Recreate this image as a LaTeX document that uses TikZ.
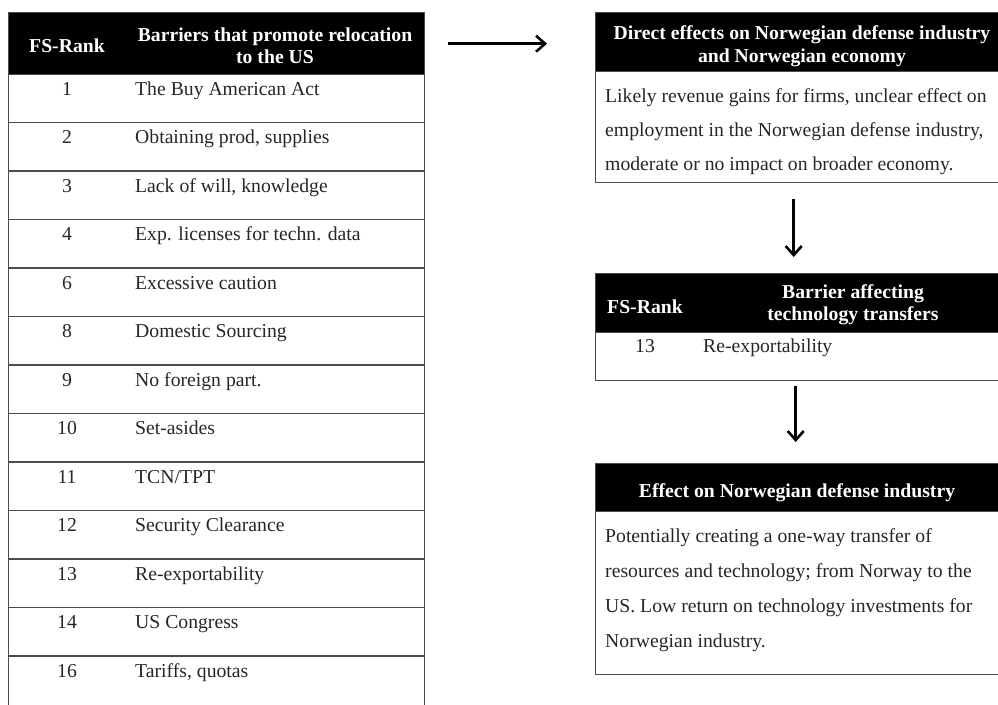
\documentclass[tikz,border=0pt]{standalone}
\usepackage{fontspec}
\setmainfont{Liberation Serif}
\usetikzlibrary{arrows.meta}
\begin{document}
\begin{tikzpicture}[x=1pt,y=-1pt,
  txt/.style={inner sep=0pt, font=\fontsize{19.7}{23.6}\selectfont, text=black!85},
  hd/.style={inner sep=0pt, font=\fontsize{19.7}{23.6}\selectfont\bfseries, text=white},
  frame/.style={draw=black!70, line width=1.4pt, inner sep=0pt},
  hdbox/.style={fill=black, draw=black!70, line width=1.4pt, inner sep=0pt},
  sep/.style={draw=black!70, line width=1.4pt},
  arr/.style={line width=2.6pt, -{Straight Barb[length=9pt,width=16pt,line width=2.6pt]}}
]
\useasboundingbox (0,0) rectangle (998,704);
\begin{scope}
\clip (0,0) rectangle (998,704);
% ---- left table ----
\node[frame, anchor=north west, minimum width=416pt, minimum height=696pt] (tabL) at (8,12) {};
\node[hdbox, anchor=north west, minimum width=416pt, minimum height=62pt] (hdL) at (8,12) {};
\foreach \k in {1,...,12} {
  \draw[sep] (8,{74+48.5*\k}) -- (424,{74+48.5*\k});
}
\node[hd, anchor=base] (hdLa) at (67,52) {FS-Rank};
\node[hd, anchor=base] (hdLb) at (275,41) {Barriers that promote relocation};
\node[hd, anchor=base] (hdLc) at (275,63) {to the US};
\foreach \n/\t [count=\i] in {1/The Buy American Act, 2/{Obtaining prod, supplies}, 3/{Lack of will, knowledge}, 4/Exp. licenses for techn. data, 6/Excessive caution, 8/Domestic Sourcing, 9/No foreign part., 10/Set-asides, 11/TCN\slash TPT, 12/Security Clearance, 13/Re-exportability, 14/US Congress, 16/{Tariffs, quotas}} {
  \node[txt, anchor=base] (rk\i) at (67,{95+48.5*(\i-1)}) {\n};
  \node[txt, anchor=base west] (rt\i) at (135,{95+48.5*(\i-1)}) {\t};
}
% ---- box 1 ----
\node[frame, anchor=north west, minimum width=412pt, minimum height=170pt] (box1) at (595,12) {};
\node[hdbox, anchor=north west, minimum width=412pt, minimum height=59pt] (box1h) at (595,12) {};
\node[hd, anchor=base] (b1ha) at (802,39) {Direct effects on Norwegian defense industry};
\node[hd, anchor=base] (b1hb) at (802,62) {and Norwegian economy};
\node[txt, anchor=base west] (b1a) at (605,102) {Likely revenue gains for firms, unclear effect on};
\node[txt, anchor=base west] (b1b) at (605,136) {employment in the Norwegian defense industry,};
\node[txt, anchor=base west] (b1c) at (605,170) {moderate or no impact on broader economy.};
% ---- box 2 ----
\node[frame, anchor=north west, minimum width=412pt, minimum height=107pt] (box2) at (595,273) {};
\node[hdbox, anchor=north west, minimum width=412pt, minimum height=59pt] (box2h) at (595,273) {};
\node[hd, anchor=base] (b2ha) at (645,313) {FS-Rank};
\node[hd, anchor=base] (b2hb) at (853,298) {Barrier affecting};
\node[hd, anchor=base] (b2hc) at (853,320) {technology transfers};
\node[txt, anchor=base] (b2a) at (645,352) {13};
\node[txt, anchor=base west] (b2b) at (703,352) {Re-exportability};
% ---- box 3 ----
\node[frame, anchor=north west, minimum width=412pt, minimum height=211pt] (box3) at (595,463) {};
\node[hdbox, anchor=north west, minimum width=412pt, minimum height=48pt] (box3h) at (595,463) {};
\node[hd, anchor=base] (b3h) at (797,497) {Effect on Norwegian defense industry};
\node[txt, anchor=base west] (b3a) at (605,542) {Potentially creating a one-way transfer of};
\node[txt, anchor=base west] (b3b) at (605,577) {resources and technology; from Norway to the};
\node[txt, anchor=base west] (b3c) at (605,612) {US. Low return on technology investments for};
\node[txt, anchor=base west] (b3d) at (605,647) {Norwegian industry.};
% ---- arrows ----
\draw[arr, shorten <=23pt, shorten >=48pt] (hdL.east) -- (hdL.east -| box1.west);
\draw[arr, shorten <=16pt, shorten >=16pt] ([xshift=-8pt]box1.south) -- ([xshift=-8pt]box2.north);
\draw[arr, shorten <=5pt, shorten >=21pt] ([xshift=-6pt]box2.south) -- ([xshift=-6pt]box3.north);
\end{scope}
\end{tikzpicture}
\end{document}
